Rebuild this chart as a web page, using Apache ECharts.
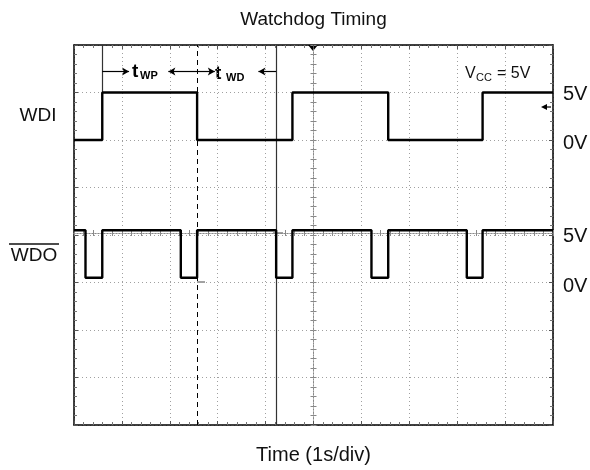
<!DOCTYPE html>
<html><head><meta charset="utf-8">
<script src="https://cdn.jsdelivr.net/npm/echarts@6/dist/echarts.min.js"></script>
<style>html,body{margin:0;padding:0;background:#fff}#c{width:590px;height:470px}</style>
</head><body><div id="c"></div>
<script>
// ---- data (time in s = divisions, level in V) ----
const wdiTimes  = [0, 0.59, 2.57, 4.56, 6.56, 8.53, 10];
const wdiLevels = [0, 5, 0, 5, 0, 5, 5];
const wdoTimes  = [0, 0.24, 0.59, 2.23, 2.57, 4.22, 4.56, 6.21, 6.56, 8.20, 8.53, 10];
const wdoLevels = [5, 0, 5, 0, 5, 0, 5, 0, 5, 0, 5, 5];
const cursorDashed = 2.57;
const cursorSolid = 4.22;
const edgeCursor = 0.59;
const arrowLevel = 7.2;               // WDI volts where the timing arrows sit
const twpArrows = [[0.59, 1.15], [2.57, 1.97]];
const twdArrows = [[2.57, 2.94], [4.22, 3.85]];

const FONT = 'Liberation Sans, Arial, sans-serif';
const chart = echarts.init(document.getElementById('c'), null, {renderer: 'canvas'});

function pts(t, v) { return t.map((x, i) => [x, v[i]]); }
function arrowData(arr) {
  return arr.map(a => [{coord: [a[0], arrowLevel]}, {coord: [a[1], arrowLevel]}]);
}

const gridLine = {show: true, lineStyle: {color: '#a0a0a0', width: 1, type: [1, 3]}};
function frameX(pos, split, extra) {
  return Object.assign({
    type: 'value', min: 0, max: 10, interval: 1, position: pos,
    axisLine: {show: true, onZero: false, lineStyle: {color: '#000', width: 1.5}},
    axisTick: {show: true, inside: true, length: 4, lineStyle: {color: '#555'}},
    minorTick: {show: true, splitNumber: 5, length: 3, lineStyle: {color: '#777'}},
    axisLabel: {show: false},
    splitLine: split ? gridLine : {show: false}
  }, extra || {});
}
function frameY(pos, split, extra) {
  return Object.assign({
    type: 'value', min: -30, max: 10, interval: 5, position: pos,
    axisLine: {show: true, onZero: false, lineStyle: {color: '#000', width: 1.5}},
    axisTick: {show: true, inside: true, length: 4, lineStyle: {color: '#555'}},
    minorTick: {show: true, splitNumber: 5, length: 3, lineStyle: {color: '#777'}},
    axisLabel: {show: false},
    splitLine: split ? gridLine : {show: false}
  }, extra || {});
}
const centerLine = {show: true, onZero: false, lineStyle: {color: '#888', width: 1, type: [1, 2]}};

const option = {
  backgroundColor: '#fff',
  animation: false,
  textStyle: {fontFamily: FONT},
  grid: {left: 74, right: 37, top: 45, bottom: 41, show: false},
  xAxis: [
    frameX('bottom', true, {name: 'Time (1s/div)', nameLocation: 'middle', nameGap: 20,
      nameTextStyle: {fontSize: 20, color: '#111', fontFamily: FONT}}),
    frameX('top', false),
    frameX('bottom', false, {offset: -192, axisLine: centerLine,
      axisTick: {show: true, inside: true, length: 3, lineStyle: {color: '#888'}},
      minorTick: {show: true, splitNumber: 5, length: 3, lineStyle: {color: '#888'}}}),
    frameX('bottom', false, {offset: -192, axisLine: centerLine,
      axisTick: {show: true, inside: false, length: 3, lineStyle: {color: '#888'}},
      minorTick: {show: true, splitNumber: 5, length: 3, lineStyle: {color: '#888'}}})
  ],
  yAxis: [
    frameY('left', true),
    {type: 'value', min: -15.5, max: 24.5, show: false},
    frameY('right', false),
    frameY('left', false, {offset: -239.5, axisLine: centerLine,
      axisTick: {show: true, inside: true, length: 3, lineStyle: {color: '#888'}},
      minorTick: {show: true, splitNumber: 5, length: 3, lineStyle: {color: '#888'}}}),
    frameY('left', false, {offset: -239.5, axisLine: centerLine,
      axisTick: {show: true, inside: false, length: 3, lineStyle: {color: '#888'}},
      minorTick: {show: true, splitNumber: 5, length: 3, lineStyle: {color: '#888'}}})
  ],
  series: [
    {
      name: 'WDI', type: 'line', xAxisIndex: 0, yAxisIndex: 0, step: 'end',
      data: pts(wdiTimes, wdiLevels), symbol: 'none', z: 5,
      lineStyle: {color: '#000', width: 2.4},
      markLine: {
        silent: true, symbol: 'none', label: {show: false}, animation: false,
        data: [
          {xAxis: cursorDashed, lineStyle: {color: '#000', width: 1, type: [5, 4]}},
          {xAxis: cursorSolid, lineStyle: {color: '#333', width: 1.2, type: 'solid'}},
          [{coord: [edgeCursor, 10], lineStyle: {color: '#333', width: 1.2, type: 'solid'}},
           {coord: [edgeCursor, 5]}]
        ]
      }
    },
    {
      name: 'WDO', type: 'line', xAxisIndex: 0, yAxisIndex: 1, step: 'end',
      data: pts(wdoTimes, wdoLevels), symbol: 'none', z: 5,
      lineStyle: {color: '#000', width: 2.4}
    },
    {
      name: 'arrows', type: 'line', xAxisIndex: 0, yAxisIndex: 0, data: [],
      markLine: {
        silent: true, symbol: ['none', 'arrow'], symbolSize: [6, 7], label: {show: false},
        lineStyle: {color: '#000', width: 1.2, type: 'solid'}, animation: false,
        data: arrowData(twpArrows).concat(arrowData(twdArrows))
      }
    }
  ],
  graphic: [
    {type: 'text', x: 313.5, y: 20, style: {text: 'Watchdog Timing', fill: '#111',
      font: '19px ' + FONT, textAlign: 'center', textVerticalAlign: 'middle'}},
    // left labels
    {type: 'text', x: 38, y: 116, style: {text: 'WDI', fill: '#111', font: '19px ' + FONT,
      textAlign: 'center', textVerticalAlign: 'middle'}},
    {type: 'text', x: 34, y: 256, style: {text: 'WDO', fill: '#111', font: '19px ' + FONT,
      textAlign: 'center', textVerticalAlign: 'middle'}},
    {type: 'line', shape: {x1: 9, y1: 244, x2: 59, y2: 244}, style: {stroke: '#111', lineWidth: 1.3}},
    // right labels
    {type: 'text', x: 563, y: 94, style: {text: '5V', fill: '#111', font: '20px ' + FONT, textVerticalAlign: 'middle'}},
    {type: 'text', x: 563, y: 143, style: {text: '0V', fill: '#111', font: '20px ' + FONT, textVerticalAlign: 'middle'}},
    {type: 'text', x: 563, y: 236, style: {text: '5V', fill: '#111', font: '20px ' + FONT, textVerticalAlign: 'middle'}},
    {type: 'text', x: 563, y: 286, style: {text: '0V', fill: '#111', font: '20px ' + FONT, textVerticalAlign: 'middle'}},
    // Vcc
    {type: 'text', x: 465, y: 74, style: {text: 'V', fill: '#111', font: '16px ' + FONT, textVerticalAlign: 'middle'}},
    {type: 'text', x: 476, y: 78, style: {text: 'CC', fill: '#111', font: '11px ' + FONT, textVerticalAlign: 'middle'}},
    {type: 'text', x: 497, y: 74, style: {text: '= 5V', fill: '#111', font: '16px ' + FONT, textVerticalAlign: 'middle'}},
    // t_WP, t_WD
    {type: 'text', x: 132, y: 72, style: {text: 't', fill: '#000', font: 'bold 19px ' + FONT, textVerticalAlign: 'middle'}},
    {type: 'text', x: 140, y: 76, style: {text: 'WP', fill: '#000', font: 'bold 11px ' + FONT, textVerticalAlign: 'middle'}},
    {type: 'text', x: 215, y: 74, style: {text: 't', fill: '#000', font: 'bold 19px ' + FONT, textVerticalAlign: 'middle'}},
    {type: 'text', x: 226, y: 78, style: {text: 'WD', fill: '#000', font: 'bold 11px ' + FONT, textVerticalAlign: 'middle'}},
    // scope markers
    {type: 'polygon', shape: {points: [[308, 45], [318, 45], [313, 51]]}, style: {fill: '#000'}},
    {type: 'line', shape: {x1: 546, y1: 107, x2: 551, y2: 107}, style: {stroke: '#000', lineWidth: 1.2}},
    {type: 'polygon', shape: {points: [[541, 107], [547, 104], [547, 110]]}, style: {fill: '#000'}},
    {type: 'line', shape: {x1: 273, y1: 233, x2: 283, y2: 233}, style: {stroke: '#444', lineWidth: 1}},
    {type: 'line', shape: {x1: 197, y1: 282, x2: 205, y2: 282}, style: {stroke: '#444', lineWidth: 1}}
  ]
};
chart.setOption(option);
</script></body></html>
